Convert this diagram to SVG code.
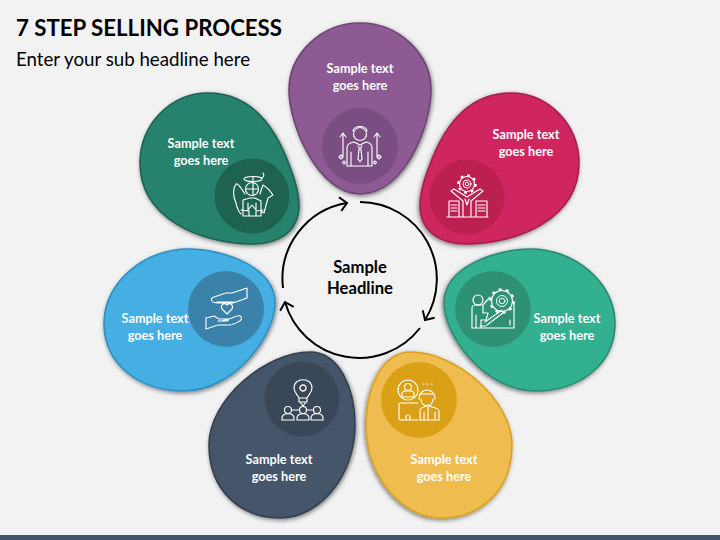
<svg xmlns="http://www.w3.org/2000/svg" width="720" height="540" viewBox="0 0 720 540">
<style>
text{font-family:Lato,"Liberation Sans",sans-serif}
.t{font-size:12.7px;font-weight:700;fill:#fff;text-anchor:middle}
.h{font-size:16.6px;font-weight:700;fill:#000;text-anchor:middle}
.blob{stroke-width:1.6;filter:url(#sh)}
.i{fill:none;stroke:#fff;stroke-width:1.15;stroke-linejoin:round;stroke-linecap:round}
.c{fill:none;stroke:#000;stroke-width:2;marker-end:url(#ar)}
</style>
<defs>
<filter id="sh" x="-15%" y="-15%" width="130%" height="130%"><feDropShadow dx="1" dy="1.5" stdDeviation="2" flood-color="#000" flood-opacity=".5"/></filter>
<marker id="ar" markerUnits="userSpaceOnUse" markerWidth="18" markerHeight="18" refX="12" refY="9" orient="auto"><path d="M5 2L12 9L5 16" fill="none" stroke="#000" stroke-width="2"/></marker>
<path id="gr" d="M208 93C250 93 275 125 290 167C295 180 299 192 299 205C299 232 278 244 253 244C200 244 140 218 140 163C140 125 170 93 208 93Z"/>
<path id="bl" d="M188 249C222 249 275 266 275 303C275 335 235 391 183 391C140 391 104 365 104 323C104 282 145 249 188 249Z"/>
<path id="nv" d="M310 352C340 352 355 390 355 425C355 475 320 518 280 518C240 518 209 490 209 445C209 400 265 352 310 352Z"/>
</defs>
<rect width="720" height="540" fill="#F2F2F2"/>
<rect y="535" width="720" height="5" fill="#44546A"/>
<text id="title" x="16" y="36" font-size="23.6" font-weight="700" fill="#000" textLength="266" lengthAdjust="spacingAndGlyphs">7 STEP SELLING PROCESS</text>
<text id="subtitle" x="16" y="66" font-size="18.6" fill="#000" textLength="234" lengthAdjust="spacingAndGlyphs">Enter your sub headline here</text>

<g id="connectors">
<path class="c" d="M360 202A77 77 0 0 1 425 320"/>
<path class="c" d="M420 328A77 77 0 0 1 285 302"/>
<path class="c" d="M283 288A77 77 0 0 1 347 203"/>
</g>

<g id="step-purple">
<path class="blob" fill="#8E5A94" stroke="#6D4573" d="M360 23C400 23 431 55 431 90C431 125 405 194 360 194C318 194 289 125 289 90C289 55 320 23 360 23Z"/>
<circle cx="360" cy="146" r="38" fill="#7A4E82"/>
<g class="i"><circle cx="360" cy="134" r="6.5"/><path d="M353 131C353 125 367 125 367 131M347 166V148Q347 143 354 142L360 145L366 142Q372 143 372 148V166ZM351 152V166M368 152V166M358 146L360 149L362 146M359 149L358 159L360 162L362 159L361 149M343 157V133M340 137L343 133L346 137M377 157V133M374 137L377 133L380 137M341 155l2 2-2 2-2-2zM379 155l2 2-2 2-2-2zM344 161l1.500 1.500-1.500 1.500-1.500-1.500zM375 161l1.500 1.500-1.500 1.500-1.500-1.500z"/></g>
<text class="t"><tspan x="360" y="73">Sample text</tspan><tspan x="360" y="90">goes here</tspan></text>
</g>

<g id="step-green">
<use href="#gr" class="blob" fill="#27826D" stroke="#1D6352"/>
<circle cx="252" cy="196" r="37.500" fill="#1E6352"/>
<g class="i"><ellipse cx="253" cy="179" rx="9" ry="2.500"/><circle cx="252" cy="189" r="6.500"/><path d="M262 178Q265 176 263 173M253 177V195M246 189H258M245 194C240 186 237 183 236 184C232 190 233 196 236 203C237 208 239 212 241 214M260 194C261 190 262 188 263 185C268 188 271 192 273 195L268 198L264 213L261 211M243 200L250 198H255L261 201V216H243ZM248 203V210L252 205L256 210V203M241 210L249 211V216M263 210L256 211V216"/></g>
<text class="t"><tspan x="201" y="148">Sample text</tspan><tspan x="201" y="165">goes here</tspan></text>
</g>

<g id="step-red">
<use href="#gr" transform="matrix(-1 0 0 1 719 0)" class="blob" fill="#D0255E" stroke="#A51F4F"/>
<circle cx="467" cy="197" r="37.500" fill="#BB2050"/>
<g class="i"><circle cx="467" cy="184" r="7.500"/><circle cx="467" cy="184" r="8.800" stroke-dasharray="2.800 4.100" stroke-width="2" stroke-linecap="butt"/><circle cx="467" cy="184" r="4" stroke-width="1"/><circle cx="467" cy="184" r="1.800" stroke-width="1"/><path d="M454 189L451 191L463 201V217M480 189L483 191L471 201V217M454 189L467 197L480 189M465 199L467 205L469 199M449 201H459V217H449ZM476 201H487V217H476ZM451 205H457M451 208H457M451 211H457M478 205H485M478 208H485M478 211H485M447 217H488"/></g>
<text class="t"><tspan x="526" y="139">Sample text</tspan><tspan x="526" y="156">goes here</tspan></text>
</g>

<g id="step-teal">
<use href="#bl" transform="matrix(-1 0 0 1 719 0)" class="blob" fill="#31B08F" stroke="#2B8A72"/>
<circle cx="493" cy="309" r="38" fill="#2E9176"/>
<g class="i"><circle cx="502" cy="301" r="10.500"/><circle cx="502" cy="301" r="11.800" stroke-dasharray="3 4.400" stroke-width="2" stroke-linecap="butt"/><circle cx="502" cy="301" r="5.500" stroke-width="1"/><circle cx="502" cy="301" r="2.800" stroke-width="1"/><circle cx="478" cy="300" r="5"/><path d="M514 303V328H472V308Q472 305 476 305H483L490 297M483 306V313H488L486 320H481V328M476 315V328M485 322L502 310M487 325L504 312M480 326H486M510 320V325"/></g>
<text class="t"><tspan x="567" y="323">Sample text</tspan><tspan x="567" y="340">goes here</tspan></text>
</g>

<g id="step-yellow">
<use href="#nv" transform="matrix(-1 0 0 1 721 0)" class="blob" fill="#EFBD4F" stroke="#D9A11C"/>
<circle cx="419" cy="400" r="38" fill="#DAA016"/>
<g class="i"><circle cx="408" cy="390" r="10"/><circle cx="408" cy="387" r="3.500"/><path d="M402 397V394Q402 391 405 391H411Q414 391 414 394V397ZM418 403H401Q399 403 399 405V418Q399 420 401 420H406M404 420H418M406 420V416Q408 413 410 416V420M420 420V411Q420 408 424 407L428 405L432 407Q439 408 439 412V420H420M428 405V420M435 420V412M424 420V412M419 399C419 387 435 387 435 399M420 394H434M421 399C421 408 433 408 433 399M423 384H424M427 384H428M431 384H432"/></g>
<text class="t"><tspan x="444" y="464">Sample text</tspan><tspan x="444" y="481">goes here</tspan></text>
</g>

<g id="step-navy">
<use href="#nv" class="blob" fill="#44546A" stroke="#333F50"/>
<circle cx="302" cy="399" r="37.500" fill="#3A4759"/>
<g class="i"><path d="M299 398C297 394 294 392 294 388C294 377 312 377 312 388C312 392 309 394 307 398ZM299 398V402H307V398M300 402L303 406L306 402"/><circle cx="303" cy="388" r="3" stroke-dasharray="2 .6" stroke-width="1.400"/><circle cx="288" cy="410" r="3.500"/><circle cx="303" cy="410" r="3.500"/><circle cx="317" cy="410" r="3.500"/><path d="M303 406.500V406M291.500 410H299.500M306.500 410H313.500M282 420V418Q282 414 288 413.500Q294 414 294 418V420ZM297 420V418Q297 414 303 413.500Q309 414 309 418V420ZM311 420V418Q311 414 317 413.500Q323 414 323 418V420Z"/></g>
<text class="t"><tspan x="279" y="464">Sample text</tspan><tspan x="279" y="481">goes here</tspan></text>
</g>

<g id="step-blue">
<use href="#bl" class="blob" fill="#45AEE3" stroke="#2A8FC2"/>
<circle cx="226" cy="309" r="38" fill="#3A82AA"/>
<g class="i"><path d="M247 288V298L233 303H218C210 303 210 298 214 297L226 293H232L247 288ZM217 302H234M227 305C224 302 220 305 222 309L227 314L232 309C234 305 230 302 227 305ZM206 318V329L218 325H230C238 323 243 320 241 317C240 315 236 316 232 318L222 321M206 318L214 316L219 319H227C229 319 229 321 226 321H218"/></g>
<text class="t"><tspan x="155" y="323">Sample text</tspan><tspan x="155" y="340">goes here</tspan></text>
</g>

<g id="center"><text class="h"><tspan x="360" y="273">Sample</tspan><tspan x="360" y="294">Headline</tspan></text></g>
</svg>
